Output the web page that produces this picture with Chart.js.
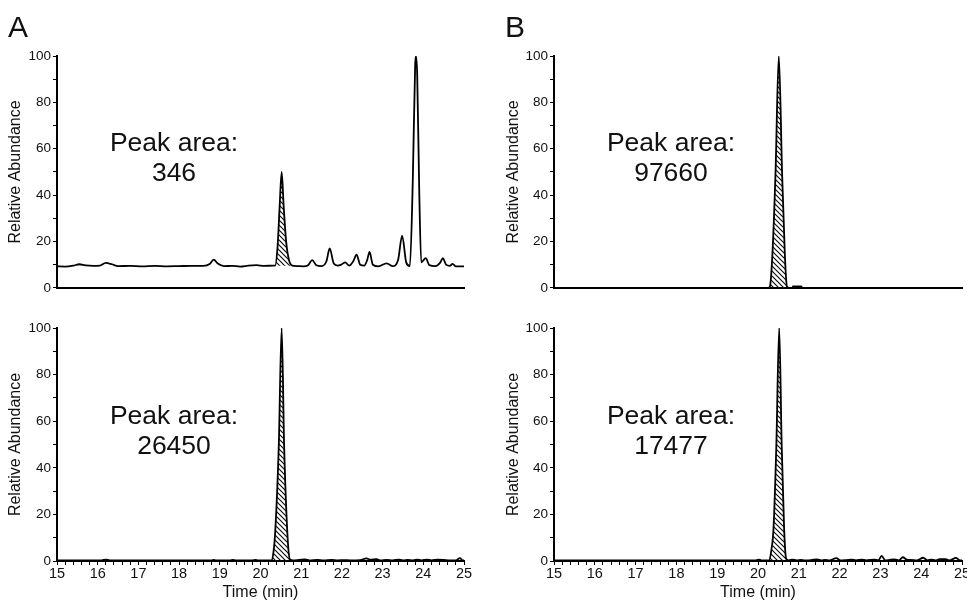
<!DOCTYPE html>
<html><head><meta charset="utf-8">
<script src="https://cdn.jsdelivr.net/npm/chart.js@4/dist/chart.umd.min.js"></script>
<style>
html,body{margin:0;padding:0;background:#fff;overflow:hidden;width:967px;height:602px;}
canvas{position:absolute;}
.lbl{position:absolute;font-family:"Liberation Sans",Arial,sans-serif;color:#111;white-space:nowrap;}
.panel{font-size:30px;line-height:30px;}
.ann{font-size:26.5px;line-height:30px;text-align:center;width:200px;}
</style></head><body>
<canvas id="cA1" width="480" height="262" style="left:0;top:36px"></canvas>
<canvas id="cA2" width="480" height="292" style="left:0;top:310px"></canvas>
<canvas id="cB1" width="480" height="262" style="left:487px;top:36px"></canvas>
<canvas id="cB2" width="500" height="292" style="left:487px;top:310px"></canvas>
<div class="lbl panel" style="left:8px;top:12px">A</div>
<div class="lbl panel" style="left:505px;top:12px">B</div>
<div class="lbl ann" style="left:74px;top:127px">Peak area:<br>346</div>
<div class="lbl ann" style="left:74px;top:400px">Peak area:<br>26450</div>
<div class="lbl ann" style="left:571px;top:127px">Peak area:<br>97660</div>
<div class="lbl ann" style="left:571px;top:400px">Peak area:<br>17477</div>
<script>
// ---- data (time in min, relative abundance) ----
const xTitle = 'Time (min)';
const yTitle = 'Relative Abundance';
const timeRange = [15, 25];

const aTopSignal = [[15.0,9.3],[15.2,9.2],[15.4,9.6],[15.55,10.2],[15.7,9.7],[15.9,9.5],[16.05,9.6],[16.2,10.8],[16.35,10.2],[16.5,9.4],[16.8,9.5],[17.1,9.3],[17.4,9.5],[17.7,9.3],[18.0,9.4],[18.3,9.5],[18.6,9.5],[18.75,10.3],[18.85,12.2],[18.95,10.5],[19.1,9.4],[19.3,9.5],[19.5,9.2],[19.7,9.6],[19.9,9.8],[20.1,9.5],[20.3,9.6],[20.36,9.6],[20.42,18],[20.47,35],[20.52,50],[20.57,35],[20.63,20],[20.7,12],[20.78,9.6],[20.9,9.4],[21.05,9.3],[21.17,9.8],[21.27,12],[21.37,9.8],[21.5,9.4],[21.62,11.5],[21.7,17],[21.8,10.5],[21.9,9.6],[22.0,10.2],[22.08,11],[22.18,9.6],[22.28,11.5],[22.36,14.3],[22.45,10],[22.55,9.6],[22.62,12],[22.68,15.5],[22.76,10],[22.9,9.3],[23.1,10.6],[23.25,9.4],[23.38,12],[23.48,22.5],[23.58,11],[23.67,9.4],[23.74,45],[23.8,96],[23.82,100],[23.85,92],[23.9,42],[23.95,11],[24.06,12.8],[24.15,9.8],[24.3,9.4],[24.42,11],[24.48,12.8],[24.56,10],[24.65,9.5],[24.72,10.4],[24.8,9.3],[25.0,9.3]];
const aBotSignal = [[15.0,0.3],[16.1,0.3],[16.2,0.6],[16.3,0.3],[18.8,0.3],[18.85,0.5],[18.9,0.3],[19.25,0.3],[19.32,0.5],[19.4,0.3],[19.8,0.3],[19.87,0.5],[19.95,0.3],[20.27,0.3],[20.32,4],[20.36,12],[20.45,50],[20.52,100],[20.58,50],[20.66,12],[20.72,0.8],[20.8,0.3],[20.95,0.5],[21.1,0.7],[21.2,0.3],[21.4,0.5],[21.55,0.3],[21.75,0.5],[21.9,0.3],[22.05,0.4],[22.2,0.3],[22.45,0.4],[22.6,1.1],[22.7,0.6],[22.85,0.8],[22.95,0.3],[23.1,0.5],[23.25,0.3],[23.4,0.6],[23.5,0.3],[23.62,0.5],[23.75,0.3],[23.85,0.6],[23.95,0.3],[24.1,0.6],[24.2,0.3],[24.35,0.6],[24.5,0.5],[24.65,0.3],[24.8,0.3],[24.9,1.2],[24.97,0.3],[25.0,0.3]];
const bTopSignal = [[15.0,0],[20.25,0],[20.29,0.5],[20.35,13.5],[20.43,50],[20.51,100],[20.59,50],[20.66,13.5],[20.71,0.5],[20.76,0],[20.84,0],[20.86,0.7],[21.06,0.7],[21.08,0],[25.0,0]];
const bBotSignal = [[15.0,0.3],[19.95,0.3],[20.02,0.6],[20.08,0.3],[20.27,0.3],[20.33,5],[20.38,14],[20.45,50],[20.52,100],[20.58,50],[20.64,14],[20.69,1],[20.75,0.3],[20.85,0.6],[20.95,0.3],[21.05,0.5],[21.15,0.3],[21.3,0.4],[21.45,0.7],[21.55,0.3],[21.65,0.5],[21.75,0.3],[21.92,1.2],[22.02,0.3],[22.15,0.4],[22.3,0.6],[22.4,0.3],[22.55,0.6],[22.65,0.3],[22.85,0.6],[22.95,0.3],[23.03,2.2],[23.12,0.3],[23.2,0.4],[23.35,0.7],[23.45,0.3],[23.55,1.6],[23.65,0.6],[23.75,0.5],[23.9,0.3],[24.05,1.4],[24.15,0.3],[24.25,0.6],[24.35,0.3],[24.45,0.8],[24.6,0.8],[24.7,0.3],[24.85,1.3],[24.95,0.3],[25.0,0.3]];

// integrated (hatched) peak windows [start, end, baseline]
const aTopPeak = [20.3, 20.78, 9.5];
const aBotPeak = [20.27, 20.72, 0];
const bTopPeak = [20.29, 20.71, 0];
const bBotPeak = [20.27, 20.75, 0];

const FONT = '"Liberation Sans", Arial, sans-serif';

function hatchPattern() {
  const c = document.createElement('canvas'); c.width = 5; c.height = 5;
  const g = c.getContext('2d');
  g.strokeStyle = '#111'; g.lineWidth = 1.2;
  g.beginPath();
  g.moveTo(-1,-1); g.lineTo(6,6);
  g.moveTo(-1,4); g.lineTo(1,6);
  g.moveTo(4,-1); g.lineTo(6,1);
  g.stroke();
  return g.createPattern(c, 'repeat');
}
const pattern = hatchPattern();

function makePanel(id, signal, peak, o) {
  const pts = signal.map(p => ({x: p[0], y: p[1]}));
  const hatch = pts.filter(p => p.x >= peak[0] && p.x <= peak[1]);
  new Chart(document.getElementById(id), {
    type: 'line',
    data: {datasets: [
      {data: pts, borderColor: '#000', borderWidth: 1.8, fill: false, cubicInterpolationMode: 'monotone', pointRadius: 0},
      {data: hatch, borderWidth: 0, borderColor: 'rgba(0,0,0,0)', backgroundColor: pattern, fill: {value: peak[2]}, cubicInterpolationMode: 'monotone', pointRadius: 0}
    ]},
    options: {
      responsive: false, animation: false, devicePixelRatio: 1, events: [],
      layout: {padding: {top: o.padTop, right: o.padRight, left: 0, bottom: 0}},
      plugins: {legend: {display: false}, tooltip: {enabled: false}},
      scales: {
        x: {
          type: 'linear', min: timeRange[0], max: timeRange[1],
          afterFit: s => { s.height = o.xH; },
          border: {display: true, color: '#000', width: 2},
          grid: {drawOnChartArea: false, drawTicks: o.showX, tickLength: 4, color: '#000', lineWidth: 1},
          ticks: {display: o.showX, stepSize: 0.2, autoSkip: false, maxRotation: 0, minRotation: 0, padding: 0,
                  color: '#111', font: {family: FONT, size: 14.5},
                  callback: v => Math.abs(v - Math.round(v)) < 1e-6 ? String(Math.round(v)) : ''},
          title: {display: o.showX, text: xTitle, color: '#111', font: {family: FONT, size: 16}, padding: {top: 0, bottom: 0}}
        },
        y: {
          min: 0, max: 100,
          afterFit: s => { s.width = o.yW; },
          border: {display: true, color: '#000', width: 2},
          grid: {drawOnChartArea: false, drawTicks: true, tickLength: 4, color: '#000', lineWidth: 1},
          ticks: {stepSize: 10, padding: 2, color: '#111', font: {family: FONT, size: 13.5},
                  callback: v => (Math.round(v) % 20 === 0 ? String(Math.round(v)) : '')},
          title: {display: true, text: yTitle, color: '#111', font: {family: FONT, size: 16}, padding: {top: o.yTitlePad, bottom: 0}}
        }
      }
    }
  });
}

makePanel('cA1', aTopSignal, aTopPeak, {padTop: 20, padRight: 16, xH: 10, yW: 57, yTitlePad: 6, showX: false});
makePanel('cA2', aBotSignal, aBotPeak, {padTop: 18, padRight: 16, xH: 41, yW: 57, yTitlePad: 6, showX: true});
makePanel('cB1', bTopSignal, bTopPeak, {padTop: 20, padRight: 5, xH: 10, yW: 67, yTitlePad: 17, showX: false});
makePanel('cB2', bBotSignal, bBotPeak, {padTop: 18, padRight: 25, xH: 41, yW: 67, yTitlePad: 17, showX: true});
</script>
</body></html>
